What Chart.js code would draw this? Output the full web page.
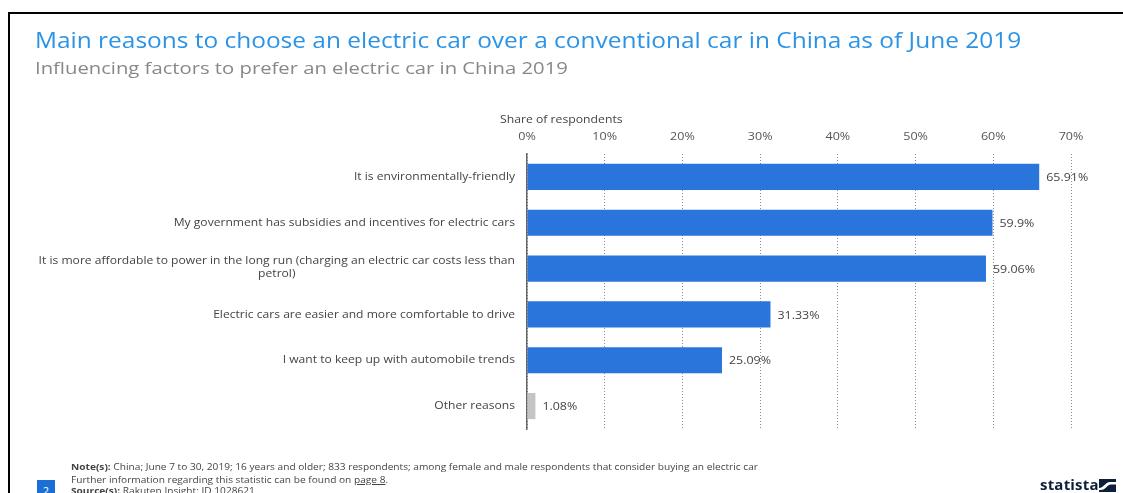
<!DOCTYPE html>
<html>
<head>
<meta charset="utf-8">
<script src="https://cdn.jsdelivr.net/npm/chart.js@4.4.0/dist/chart.umd.min.js"></script>
<style>
  html, body { margin:0; padding:0; background:#fff; width:1123px; height:493px; overflow:hidden; }
  body { position:relative; font-family:"Open Sans", "DejaVu Sans", sans-serif; }
  #frame { position:absolute; left:8px; top:12px; width:1300px; height:700px; border-top:2.5px solid #000; border-left:2.5px solid #000; }
  #cv { position:absolute; left:0; top:0; }
  .t { position:absolute; white-space:nowrap; transform-origin:0 50%; }
  #title { left:35px; top:25px; font-size:21.5px; color:#2b93e6; transform:scaleX(1.137); }
  #subtitle { left:35px; top:56px; font-size:17px; color:#888; transform:scaleX(1.19); }
  #axtitle { left:500px; top:111px; font-size:11px; color:#444; transform:scaleX(1.11); }
  .foot { left:71px; font-size:8.6px; color:#444; transform:scaleX(1.18); }
  #box { position:absolute; left:37px; top:480px; width:18px; height:18px; background:#1b6fd4; color:#fff; font-size:11px; text-align:center; line-height:22px; }
  #logo { left:1040px; top:474px; font-size:15px; font-weight:bold; color:#0e1f3a; letter-spacing:0.2px; }
  #icon { position:absolute; left:1099px; top:479px; width:17px; height:13px; }
</style>
</head>
<body>
<div id="frame"></div>
<canvas id="cv" width="1123" height="493"></canvas>
<div class="t" id="title">Main reasons to choose an electric car over a conventional car in China as of June 2019</div>
<div class="t" id="subtitle">Influencing factors to prefer an electric car in China 2019</div>
<div class="t" id="axtitle">Share of respondents</div>
<div class="t foot" style="top:461px;"><b>Note(s):</b> China; June 7 to 30, 2019; 16 years and older; 833 respondents; among female and male respondents that consider buying an electric car</div>
<div class="t foot" style="top:474px;">Further information regarding this statistic can be found on <u>page 8</u>.</div>
<div class="t foot" style="top:485px;"><b>Source(s):</b> Rakuten Insight; ID 1028621</div>
<div id="box">2</div>
<div class="t" id="logo">statista</div>
<svg id="icon" viewBox="0 0 17 13"><rect x="0" y="0" width="17" height="13" fill="#0e1f3a"/><path d="M0 9 C5 9 6 3 11 3 L17 3 L17 5.5 L12 5.5 C8 5.5 7 11 1.5 11 L0 11 Z" fill="#fff"/></svg>

<script>
const categories = [
  ["It is environmentally-friendly"],
  ["My government has subsidies and incentives for electric cars"],
  ["It is more affordable to power in the long run (charging an electric car costs less than", "petrol)"],
  ["Electric cars are easier and more comfortable to drive"],
  ["I want to keep up with automobile trends"],
  ["Other reasons"]
];
const values = [65.91, 59.9, 59.06, 31.33, 25.09, 1.08];
const barColors = ["#2a75dc", "#2a75dc", "#2a75dc", "#2a75dc", "#2a75dc", "#c4c4c4"];
const xTicks = [0, 10, 20, 30, 40, 50, 60, 70];

const FONT = '"Open Sans", "DejaVu Sans", sans-serif';
const KX = 1.12; // horizontal text stretch of the reference

function stretchedText(ctx, text, x, y, align, k) {
  const w = ctx.measureText(text).width * k;
  let left = x;
  if (align === 'right') left = x - w;
  else if (align === 'center') left = x - w / 2;
  ctx.save();
  ctx.translate(left, y);
  ctx.scale(k, 1);
  ctx.textAlign = 'left';
  ctx.fillText(text, 0, 0);
  ctx.restore();
}

const labelsPlugin = {
  id: 'customLabels',
  afterDatasetsDraw(chart) {
    const ctx = chart.ctx;
    const meta = chart.getDatasetMeta(0);
    const xs = chart.scales.x;
    ctx.save();
    ctx.font = '11px ' + FONT;
    ctx.fillStyle = '#555';
    ctx.textBaseline = 'middle';
    // x tick labels
    xTicks.forEach(v => {
      stretchedText(ctx, v + '%', xs.getPixelForValue(v), 137, 'center', 1.14);
    });
    ctx.fillStyle = '#444';
    meta.data.forEach((bar, i) => {
      // value labels
      stretchedText(ctx, values[i] + '%', bar.x + 7, bar.y + 1, 'left', 1.13);
      // category labels
      const lines = categories[i];
      const rightX = chart.chartArea.left - 12;
      const lh = 13;
      const k = 1.10;
      const w = Math.max(...lines.map(l => ctx.measureText(l).width)) * k;
      const startY = bar.y - (lines.length - 1) * lh / 2 - (lines.length > 1 ? 1.5 : 0);
      lines.forEach((l, j) => {
        stretchedText(ctx, l, rightX - w / 2, startY + j * lh, 'center', k);
      });
    });
    ctx.restore();
  }
};

new Chart(document.getElementById('cv'), {
  type: 'bar',
  data: {
    labels: categories.map(c => c.join(' ')),
    datasets: [{
      data: values,
      backgroundColor: barColors,
      barPercentage: 0.57,
      categoryPercentage: 1.0
    }]
  },
  options: {
    indexAxis: 'y',
    responsive: false,
    animation: false,
    devicePixelRatio: 1,
    layout: { padding: { left: 0, right: 52, top: 0, bottom: 64 } },
    plugins: { legend: { display: false }, tooltip: { enabled: false } },
    scales: {
      x: {
        position: 'top',
        min: 0, max: 70,
        afterBuildTicks(scale) { scale.ticks = xTicks.map(v => ({ value: v })); },
        afterFit(scale) { scale.height = 154; },
        ticks: { display: false },
        grid: { color: '#8a8a8a', lineWidth: 1, drawTicks: false },
        border: { display: false, dash: [1, 2] }
      },
      y: {
        afterFit(scale) { scale.width = 527; },
        ticks: { display: false },
        grid: { display: false, drawTicks: false },
        border: { display: true, color: '#666', width: 1.5 }
      }
    }
  },
  plugins: [labelsPlugin]
});
</script>
</body>
</html>
